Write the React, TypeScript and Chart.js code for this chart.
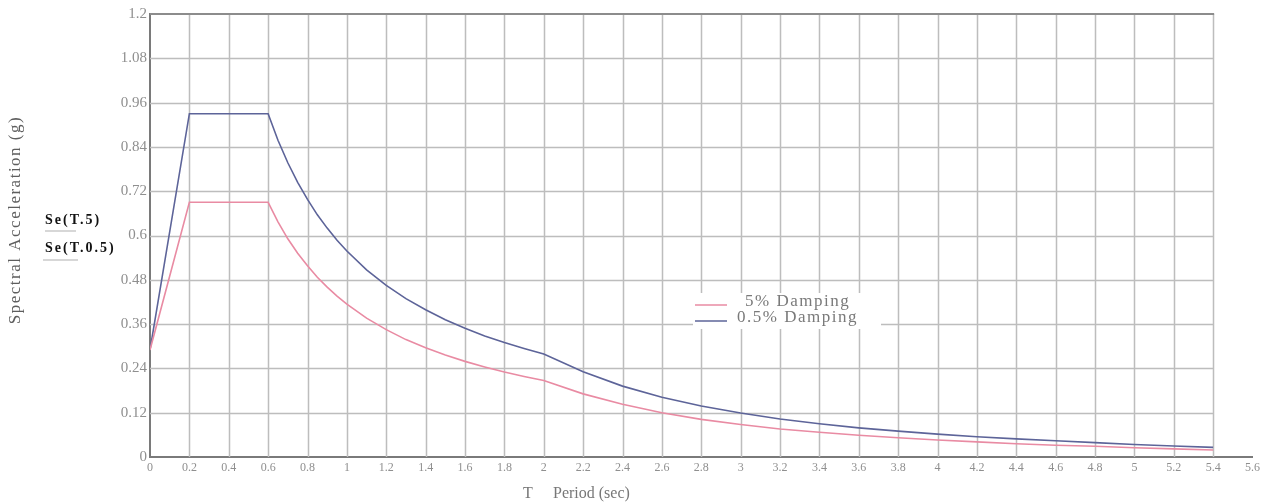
import React, { useEffect, useRef } from "react";
import { Chart, registerables } from "chart.js";

Chart.register(...registerables);

// Period values (sec) at which the spectra are sampled
const periods = [
  0, 0.2, 0.6, 0.65, 0.7, 0.75, 0.8, 0.85, 0.9, 0.95, 1.0, 1.1, 1.2, 1.3, 1.4,
  1.5, 1.6, 1.7, 1.8, 1.9, 2.0, 2.2, 2.4, 2.6, 2.8, 3.0, 3.2, 3.4, 3.6, 3.8,
  4.0, 4.2, 4.4, 4.6, 4.8, 5.0, 5.2, 5.4,
];

// Spectral acceleration (g), 5% damping
const damping5 = [
  0.29, 0.69, 0.69, 0.637, 0.591, 0.552, 0.518, 0.487, 0.46, 0.436, 0.414,
  0.376, 0.345, 0.318, 0.296, 0.276, 0.259, 0.244, 0.23, 0.218, 0.207, 0.171,
  0.143, 0.12, 0.102, 0.088, 0.076, 0.067, 0.059, 0.052, 0.046, 0.041, 0.036,
  0.032, 0.029, 0.025, 0.022, 0.019,
];

// Spectral acceleration (g), 0.5% damping
const damping05 = [
  0.29, 0.93, 0.93, 0.858, 0.797, 0.744, 0.698, 0.656, 0.62, 0.587, 0.558,
  0.507, 0.465, 0.429, 0.399, 0.372, 0.349, 0.328, 0.31, 0.294, 0.279, 0.231,
  0.192, 0.162, 0.138, 0.119, 0.103, 0.09, 0.079, 0.07, 0.062, 0.055, 0.049,
  0.044, 0.039, 0.034, 0.03, 0.026,
];

const xTicks = [
  0, 0.2, 0.4, 0.6, 0.8, 1, 1.2, 1.4, 1.6, 1.8, 2, 2.2, 2.4, 2.6, 2.8, 3, 3.2,
  3.4, 3.6, 3.8, 4, 4.2, 4.4, 4.6, 4.8, 5, 5.2, 5.4, 5.6,
];
const yTicks = [0, 0.12, 0.24, 0.36, 0.48, 0.6, 0.72, 0.84, 0.96, 1.08, 1.2];

// the ruled grid stops at this period
const gridEnd = 5.4;

const seriesNames = ["5% Damping", "0.5% Damping"];
const seriesColors = ["#e98ba3", "#5d6499"];
const sideLabels = ["Se(T.5)", "Se(T.0.5)"];

const SERIF = "'Liberation Serif', 'DejaVu Serif', serif";

const fmt = (v: number, d: number) => String(Number(v.toFixed(d)));

// ruled grid, limited to the 0 – 5.4 s range
const gridLines = {
  id: "gridLines",
  beforeDatasetsDraw(chart: any) {
    const ctx = chart.ctx as CanvasRenderingContext2D;
    const xs = chart.scales.x;
    const ys = chart.scales.y;
    const top = ys.getPixelForValue(yTicks[yTicks.length - 1]);
    const bottom = ys.getPixelForValue(0);
    const left = xs.getPixelForValue(0);
    const right = xs.getPixelForValue(gridEnd);
    ctx.save();
    ctx.strokeStyle = "#bdbdbd";
    ctx.lineWidth = 1.5;
    ctx.beginPath();
    xTicks.forEach((t) => {
      if (t === 0 || t > gridEnd) return;
      const px = Math.round(xs.getPixelForValue(t)) + 0.5;
      ctx.moveTo(px, top);
      ctx.lineTo(px, bottom);
    });
    yTicks.forEach((v, i) => {
      if (v === 0 || i === yTicks.length - 1) return;
      const py = Math.round(ys.getPixelForValue(v)) + 0.5;
      ctx.moveTo(left, py);
      ctx.lineTo(right, py);
    });
    ctx.stroke();
    // top frame line
    ctx.strokeStyle = "#8c8c8c";
    ctx.lineWidth = 2;
    ctx.beginPath();
    ctx.moveTo(left, top);
    ctx.lineTo(right + 1, top);
    ctx.stroke();
    ctx.restore();
  },
};

const annotations = {
  id: "annotations",
  afterDraw(chart: any) {
    const ctx = chart.ctx as CanvasRenderingContext2D;
    ctx.save();

    // vertical axis title
    ctx.save();
    ctx.translate(16, 220);
    ctx.rotate(-Math.PI / 2);
    ctx.font = `17px ${SERIF}`;
    (ctx as any).letterSpacing = "1.5px";
    ctx.fillStyle = "#5e5e5e";
    ctx.textAlign = "center";
    ctx.textBaseline = "middle";
    ctx.fillText("Spectral Acceleration (g)", 0, 0);
    ctx.restore();

    // horizontal axis title
    ctx.font = `16px ${SERIF}`;
    ctx.fillStyle = "#777";
    ctx.textBaseline = "middle";
    ctx.textAlign = "left";
    ctx.fillText("T", 523, 494);
    ctx.fillText("Period (sec)", 553, 494);

    // Se labels at the left
    ctx.font = `bold 14px ${SERIF}`;
    (ctx as any).letterSpacing = "2px";
    ctx.fillStyle = "#111";
    ctx.fillText(sideLabels[0], 45, 220);
    ctx.fillText(sideLabels[1], 45, 248);
    (ctx as any).letterSpacing = "0px";
    ctx.strokeStyle = "#cacaca";
    ctx.lineWidth = 1.5;
    ctx.beginPath();
    ctx.moveTo(45, 231);
    ctx.lineTo(76, 231);
    ctx.moveTo(43, 260);
    ctx.lineTo(78, 260);
    ctx.stroke();

    // legend
    const lx = 695;
    const ly = [302, 318];
    ctx.fillStyle = "#fff";
    ctx.fillRect(lx - 2, ly[0] - 9, 188, 36);
    ctx.font = `17px ${SERIF}`;
    (ctx as any).letterSpacing = "1.5px";
    ctx.lineWidth = 1.5;
    seriesNames.forEach((name, i) => {
      ctx.strokeStyle = seriesColors[i];
      ctx.beginPath();
      ctx.moveTo(lx, ly[i] + 3);
      ctx.lineTo(lx + 32, ly[i] + 3);
      ctx.stroke();
      ctx.fillStyle = "#7a7a7a";
      ctx.fillText(name, i === 0 ? lx + 50 : lx + 42, ly[i]);
    });
    (ctx as any).letterSpacing = "0px";

    ctx.restore();
  },
};

export default function App() {
  const ref = useRef<HTMLCanvasElement | null>(null);

  useEffect(() => {
    if (!ref.current) return;
    const chart = new Chart(ref.current, {
      type: "line",
      data: {
        datasets: [damping5, damping05].map((vals, i) => ({
          label: seriesNames[i],
          data: periods.map((t, k) => ({ x: t, y: vals[k] })),
          borderColor: seriesColors[i],
          borderWidth: 1.6,
          pointRadius: 0,
          tension: 0,
          fill: false,
        })),
      },
      options: {
        animation: false,
        responsive: false,
        maintainAspectRatio: false,
        layout: { padding: { left: 0, top: 14, right: 7, bottom: 0 } },
        plugins: {
          legend: { display: false },
          tooltip: { enabled: false },
          title: { display: false },
        },
        scales: {
          x: {
            type: "linear",
            min: 0,
            max: 5.6,
            afterBuildTicks: (s: any) => {
              s.ticks = xTicks.map((v) => ({ value: v }));
            },
            afterFit: (s: any) => {
              s.height = 45;
            },
            ticks: {
              autoSkip: false,
              maxRotation: 0,
              padding: 4,
              color: "#8f8f8f",
              font: { family: SERIF, size: 12 },
              callback: (v: any) => fmt(Number(v), 1),
            },
            grid: { display: false, drawTicks: false },
            border: { color: "#7a7a7a", width: 2 },
          },
          y: {
            type: "linear",
            min: 0,
            max: 1.2,
            afterBuildTicks: (s: any) => {
              s.ticks = yTicks.map((v) => ({ value: v }));
            },
            afterFit: (s: any) => {
              s.width = 150;
            },
            ticks: {
              autoSkip: false,
              padding: 3,
              color: "#8f8f8f",
              font: { family: SERIF, size: 15 },
              callback: (v: any) => fmt(Number(v), 2),
            },
            grid: { display: false, drawTicks: false },
            border: { color: "#7a7a7a", width: 2 },
          },
        },
      },
      plugins: [gridLines, annotations],
    });
    return () => chart.destroy();
  }, []);

  return (
    <div style={{ position: "fixed", left: 0, top: 0, width: 1264, height: 502, background: "#fff" }}>
      <canvas ref={ref} width={1264} height={502} style={{ width: 1264, height: 502 }} />
    </div>
  );
}
